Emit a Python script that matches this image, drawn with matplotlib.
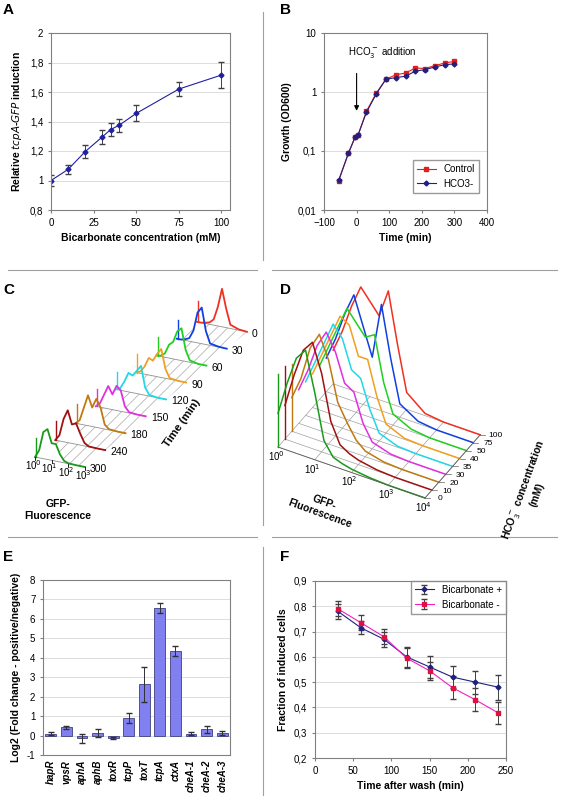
import numpy as np
import matplotlib
matplotlib.use("Agg")
import matplotlib.pyplot as plt
from matplotlib.ticker import FuncFormatter

plt.rcParams['font.family'] = ['Liberation Sans', 'DejaVu Sans']
plt.rcParams['font.size'] = 7
plt.rcParams['hatch.linewidth'] = 0.5

# ---------- data ----------
a_conc = [0, 10, 20, 30, 35, 40, 50, 75, 100]
a_ind = [1.0, 1.075, 1.195, 1.295, 1.345, 1.375, 1.455, 1.62, 1.715]
a_err = [0.035, 0.03, 0.045, 0.05, 0.045, 0.045, 0.055, 0.05, 0.09]

b_time = [-55, -25, -5, 5, 30, 60, 90, 120, 150, 180, 210, 240, 270, 300]
b_ctrl = [0.031, 0.092, 0.17, 0.19, 0.47, 0.95, 1.65, 1.95, 2.1, 2.55, 2.5, 2.8, 3.1, 3.3]
b_hco3 = [0.032, 0.092, 0.17, 0.19, 0.45, 0.92, 1.65, 1.75, 1.85, 2.25, 2.4, 2.65, 2.9, 3.0]

c_labels = ['300', '240', '180', '150', '120', '90', '60', '30', '0']
c_colors = ['#1a9a1a', '#a01010', '#c07810', '#e030e0', '#20d8e8', '#f0a020', '#20d020', '#1040e0', '#f03020']
c_logf = [0, 0.25, 0.5, 0.75, 1.0, 1.25, 1.5, 1.75, 2.0, 2.5, 3.0]
c_spike = [0.5, 0.5, 0.5, 0.45, 0.45, 0.5, 0.5, 0.5, 0.55]
c_h = [
    [0, 0.2, 0.7, 0.8, 0.45, 0.45, 0.2, 0.05, 0.01, 0, 0],
    [0, 0.15, 0.6, 0.85, 0.5, 0.55, 0.3, 0.08, 0.01, 0, 0],
    [0, 0.1, 0.45, 0.8, 0.5, 0.75, 0.55, 0.12, 0.02, 0, 0],
    [0, 0.1, 0.35, 0.6, 0.4, 0.65, 0.55, 0.15, 0.02, 0, 0],
    [0, 0.05, 0.25, 0.5, 0.45, 0.6, 0.75, 0.2, 0.03, 0, 0],
    [0, 0.05, 0.2, 0.45, 0.4, 0.6, 0.75, 0.25, 0.03, 0, 0],
    [0, 0.02, 0.1, 0.35, 0.45, 0.75, 0.85, 0.3, 0.05, 0, 0],
    [0, 0, 0.03, 0.08, 0.3, 0.8, 0.95, 0.35, 0.05, 0.01, 0],
    [0, 0, 0.02, 0.05, 0.15, 0.5, 1.0, 0.5, 0.1, 0.02, 0],
]

d_labels = ['0', '10', '20', '30', '35', '40', '50', '75', '100']
d_colors = ['#1a9a1a', '#a01010', '#c07810', '#e030e0', '#20d8e8', '#f0a020', '#20d020', '#1040e0', '#f03020']
d_logf = [0, 0.25, 0.5, 0.75, 1.0, 1.25, 1.5, 1.75, 2.0, 2.5, 3.0, 4.0]
d_spike = [0.65, 0.65, 0.6, 0, 0, 0, 0, 0, 0]
d_h = [
    [0.3, 0.6, 0.85, 0.95, 0.6, 0.2, 0.08, 0.05, 0.03, 0.01, 0, 0],
    [0.3, 0.6, 0.85, 0.95, 0.7, 0.3, 0.12, 0.07, 0.04, 0.01, 0, 0],
    [0.3, 0.5, 0.8, 0.95, 0.75, 0.4, 0.25, 0.12, 0.05, 0.01, 0, 0],
    [0.3, 0.5, 0.75, 0.9, 0.75, 0.5, 0.45, 0.2, 0.06, 0.01, 0, 0],
    [0.3, 0.5, 0.7, 0.9, 0.8, 0.55, 0.5, 0.25, 0.07, 0.01, 0, 0],
    [0.3, 0.5, 0.7, 0.9, 0.85, 0.6, 0.6, 0.3, 0.08, 0.01, 0, 0],
    [0.3, 0.5, 0.7, 0.9, 0.8, 0.7, 0.75, 0.35, 0.1, 0.02, 0, 0],
    [0.3, 0.5, 0.75, 0.95, 0.7, 0.45, 0.95, 0.5, 0.12, 0.02, 0, 0],
    [0.3, 0.5, 0.75, 0.95, 0.85, 0.75, 1.0, 0.55, 0.15, 0.02, 0, 0],
]

e_genes = ['hapR', 'vpsR', 'aphA', 'aphB', 'toxR', 'tcpP', 'toxT', 'tcpA', 'ctxA', 'cheA-1', 'cheA-2', 'cheA-3']
e_vals = [0.1, 0.42, -0.15, 0.15, -0.12, 0.9, 2.65, 6.55, 4.35, 0.1, 0.32, 0.15]
e_err = [0.08, 0.08, 0.25, 0.2, 0.05, 0.25, 0.9, 0.25, 0.25, 0.07, 0.18, 0.1]

f_time = [30, 60, 90, 120, 150, 180, 210, 240]
f_plus = [0.78, 0.715, 0.67, 0.6, 0.56, 0.52, 0.50, 0.48]
f_plus_err = [0.03, 0.025, 0.03, 0.04, 0.045, 0.045, 0.045, 0.05]
f_minus = [0.79, 0.735, 0.68, 0.595, 0.545, 0.478, 0.43, 0.378]
f_minus_err = [0.03, 0.03, 0.03, 0.04, 0.035, 0.045, 0.045, 0.045]

W, H = 565, 800
fig = plt.figure(figsize=(W / 100, H / 100), dpi=100)

def axp(x0, y0, x1, y1):
    return fig.add_axes([x0 / W, 1 - y1 / H, (x1 - x0) / W, (y1 - y0) / H])

def comma(v, p):
    return ('%g' % v).replace('.', ',')

def style(ax):
    for s in ax.spines.values():
        s.set_color('#808080')
    ax.tick_params(length=2, labelsize=7, color='#808080')
    ax.grid(axis='y', color='#d8d8d8', lw=0.6)
    ax.set_axisbelow(True)

bg = fig.add_axes([0, 0, 1, 1])
bg.set_xlim(0, W); bg.set_ylim(H, 0); bg.axis('off')
bg.plot([263, 263], [12, 260], color='#a0a0a0', lw=0.8)
bg.plot([263, 263], [280, 525], color='#a0a0a0', lw=0.8)
bg.plot([263, 263], [547, 795], color='#a0a0a0', lw=0.8)
for y in (270, 537):
    bg.plot([8, 257], [y, y], color='#a0a0a0', lw=0.8)
    bg.plot([272, 557], [y, y], color='#a0a0a0', lw=0.8)
for lab, x, y in [('A', 3, 10), ('B', 280, 10), ('C', 3, 290), ('D', 280, 290), ('E', 3, 557), ('F', 280, 557)]:
    bg.text(x, y, lab, fontsize=11, fontweight='bold', va='center')

# ---------- A ----------
ax = axp(51, 33, 230, 210)
ax.errorbar(a_conc, a_ind, yerr=a_err, color='#2020a0', marker='D', ms=2.5, lw=0.8,
            ecolor='#404040', elinewidth=0.7, capsize=2)
ax.set_xlim(0, 105); ax.set_ylim(0.8, 2.0)
ax.set_xticks([0, 25, 50, 75, 100])
ax.set_yticks(np.arange(0.8, 2.01, 0.2))
ax.yaxis.set_major_formatter(FuncFormatter(lambda v, p: comma(round(v, 1), p)))
style(ax)
ax.set_xlabel('Bicarbonate concentration (mM)', fontweight='bold', fontsize=7.5)
ax.set_ylabel('Relative $\\mathbf{\\it{tcpA}}$-$\\mathbf{\\it{GFP}}$ induction', fontweight='bold', fontsize=7.5)

# ---------- B ----------
ax = axp(324, 33, 487, 210)
ax.plot(b_time, b_ctrl, color='#e02020', marker='s', ms=2.5, lw=0.8, label='Control')
ax.plot(b_time, b_hco3, color='#202080', marker='D', ms=2.5, lw=0.8, label='HCO3-')
ax.set_yscale('log'); ax.set_ylim(0.01, 10); ax.set_xlim(-100, 400)
ax.set_yticks([0.01, 0.1, 1, 10]); ax.minorticks_off()
ax.set_yticklabels(['0,01', '0,1', '1', '10'])
ax.set_xticks(range(-100, 401, 100))
style(ax)
ax.set_xlabel('Time (min)', fontweight='bold', fontsize=7.5)
ax.set_ylabel('Growth (OD600)', fontweight='bold', fontsize=7.5)
ax.legend(loc='lower right', fontsize=7, frameon=True, fancybox=False, edgecolor='#808080',
          bbox_to_anchor=(0.98, 0.07), handlelength=2)
ax.text(-25, 4.2, 'HCO$_3^-$ addition', fontsize=7)
ax.annotate('', xy=(0, 0.43), xytext=(0, 2.3), arrowprops=dict(arrowstyle='-|>', color='k', lw=0.8))

# ---------- C (pseudo-3D) ----------
c0 = np.array([35.0, 457.0]); cstep = np.array([20.25, -16.9]); cfx = np.array([50.0 / 3, 10.0 / 3]); cH = 38
n = len(c_labels)
for i in range(n - 1):
    base = c0 + cstep * i
    p = [base, base + cfx * 3, base + cfx * 3 + cstep, base + cstep]
    bg.fill([q[0] for q in p], [q[1] for q in p], facecolor='none', edgecolor='#a8a8a8', hatch='///', lw=0)
for i in range(n - 1, -1, -1):
    base = c0 + cstep * i
    end = base + cfx * 3
    bg.plot([base[0], end[0]], [base[1], end[1]], color='#909090', lw=0.6)
    xs = [base[0] + cfx[0] * f for f in c_logf]
    ys = [base[1] + cfx[1] * f - cH * h for f, h in zip(c_logf, c_h[i])]
    bg.fill(xs + [end[0], base[0]], ys + [end[1], base[1]], color='white', lw=0)
    bg.plot(xs, ys, color=c_colors[i], lw=1.3)
    bg.plot([base[0] + 1, base[0] + 1], [base[1], base[1] - cH * c_spike[i]], color=c_colors[i], lw=1)
    bg.text(end[0] + 5, end[1] + 2, c_labels[i], fontsize=7.5, va='center')
for k in range(4):
    p = c0 + cfx * k
    bg.text(p[0] - 2, p[1] + 13, '10$^{%d}$' % k, fontsize=7, ha='center')
    bg.plot([p[0], p[0]], [p[1], p[1] + 3], color='k', lw=0.6)
bg.text(182, 423, 'Time (min)', fontsize=8, fontweight='bold', rotation=55, ha='center', va='center')
bg.text(58, 510, 'GFP-\nFluorescence', fontsize=7.5, fontweight='bold', ha='center', va='center')

# ---------- D (pseudo-3D) ----------
d0 = np.array([278.0, 447.0]); dstep = np.array([6.9, -7.9]); dfx = np.array([147.0 / 4, 51.0 / 4]); dH = 112
n = len(d_labels)
for k in range(0, 5):
    p0 = d0 + dfx * k; p1 = p0 + dstep * (n - 1)
    bg.plot([p0[0], p1[0]], [p0[1], p1[1]], color='#a0a0a0', lw=0.5)
for i in range(n - 1, -1, -1):
    base = d0 + dstep * i
    end = base + dfx * 4
    bg.plot([base[0], end[0]], [base[1], end[1]], color='#a0a0a0', lw=0.5)
    xs = [base[0] + dfx[0] * f for f in d_logf]
    ys = [base[1] + dfx[1] * f - dH * h for f, h in zip(d_logf, d_h[i])]
    bg.fill(xs + [end[0], base[0]], ys + [end[1], base[1]], color='white', lw=0)
    bg.plot(xs, ys, color=d_colors[i], lw=1.1)
    if d_spike[i] > 0:
        bg.plot([base[0], base[0]], [base[1], base[1] - dH * d_spike[i]], color=d_colors[i], lw=1)
    bg.plot([end[0], end[0] + 5], [end[1], end[1]], color='#606060', lw=0.5)
    bg.text(end[0] + 15, end[1] + 1, d_labels[i], fontsize=6, va='center', ha='center')
e0 = d0 + dfx * 4
e1 = e0 + dstep * (n - 1)
bg.plot([e0[0], e1[0]], [e0[1], e1[1]], color='#606060', lw=0.6)
bg.plot([d0[0], e0[0]], [d0[1], e0[1]], color='#606060', lw=0.6)
for k in range(5):
    p = d0 + dfx * k
    bg.text(p[0] - 2, p[1] + 14, '10$^{%d}$' % k, fontsize=7, ha='center')
bg.text(529, 492, 'HCO$_3^-$ concentration\n(mM)', fontsize=7.5, fontweight='bold', rotation=70, ha='center', va='center')
bg.text(322, 508, 'GFP-\nFluorescence', fontsize=7.5, fontweight='bold', ha='center', va='center', rotation=-20)

# ---------- E ----------
ax = axp(43, 580, 230, 755)
x = np.arange(len(e_genes))
ax.bar(x, e_vals, width=0.7, color='#8080f0', edgecolor='#404080', lw=0.6,
       yerr=e_err, error_kw=dict(ecolor='#303030', elinewidth=0.7, capsize=2))
ax.set_xlim(-0.5, len(e_genes) - 0.5); ax.set_ylim(-1, 8)
ax.set_yticks(range(-1, 9))
ax.set_yticklabels([str(v) for v in range(-1, 9)])
ax.set_xticks(x)
ax.set_xticklabels(e_genes, rotation=90, fontstyle='italic', fontweight='bold', fontsize=7)
style(ax)
ax.tick_params(axis='x', length=0)
ax.set_ylabel('Log2 (Fold change - positive/negative)', fontweight='bold', fontsize=7.5)

# ---------- F ----------
ax = axp(315, 581, 506, 758)
ax.errorbar(f_time, f_plus, yerr=f_plus_err, color='#202080', marker='D', ms=2.5, lw=0.8,
            ecolor='#404040', elinewidth=0.7, capsize=2, label='Bicarbonate +')
ax.errorbar(f_time, f_minus, yerr=f_minus_err, color='#f020c0', marker='s', ms=3, mfc='#e01040', mec='#e01040',
            lw=0.8, ecolor='#404040', elinewidth=0.7, capsize=2, label='Bicarbonate -')
ax.set_xlim(0, 250); ax.set_ylim(0.2, 0.9)
ax.set_xticks(range(0, 251, 50))
ax.set_yticks(np.arange(0.2, 0.91, 0.1))
ax.yaxis.set_major_formatter(FuncFormatter(lambda v, p: comma(round(v, 1), p)))
style(ax)
ax.set_xlabel('Time after wash (min)', fontweight='bold', fontsize=7.5)
ax.set_ylabel('Fraction of induced cells', fontweight='bold', fontsize=7.5)
ax.legend(loc='upper right', fontsize=7, frameon=True, fancybox=False, edgecolor='#808080',
          borderaxespad=0, handlelength=2)

fig.savefig('out.png', dpi=100)
